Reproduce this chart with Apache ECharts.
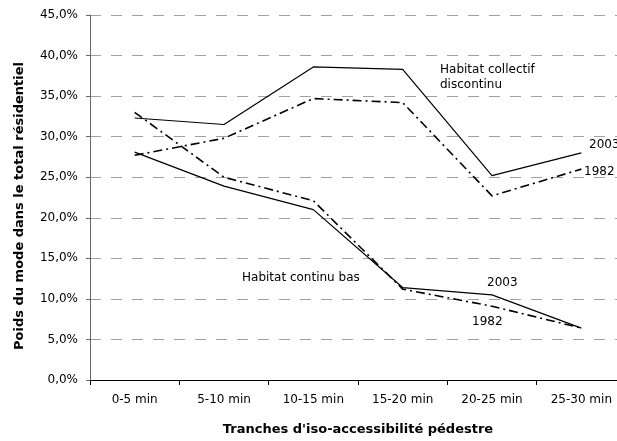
<!DOCTYPE html>
<html><head><meta charset="utf-8">
<script src="https://cdn.jsdelivr.net/npm/echarts@6/dist/echarts.min.js"></script>
<style>html,body{margin:0;padding:0;background:#fff;overflow:hidden}#c{width:640px;height:441px}</style>
</head><body><div id="c"></div>
<script>
const categories = ['0-5 min','5-10 min','10-15 min','15-20 min','20-25 min','25-30 min'];
const collectif2003 = [32.3, 31.5, 38.6, 38.3, 25.2, 28.0];
const collectif1982 = [27.7, 29.8, 34.7, 34.2, 22.7, 26.0];
const continu2003 = [28.1, 23.9, 21.0, 11.4, 10.5, 6.4];
const continu1982 = [33.0, 25.0, 22.1, 11.2, 9.1, 6.4];
const yTicks = {min: 0, max: 45, interval: 5};

const font = '"DejaVu Sans", sans-serif';
const chart = echarts.init(document.getElementById('c'));
const solid = {color:'#000', width:1.2, type:'solid'};
const dashdot = {color:'#000', width:1.6, type:[9,4,2,4]};
function mk(name, data, ls){
  return {name, type:'line', data, symbol:'none', lineStyle:ls, animation:false, silent:true};
}
function txt(x, y, text, align){
  return {type:'text', x, y, silent:true,
    style:{text, font:'12px '+font, fill:'#000', align:align||'left', verticalAlign:'middle', lineHeight:15}};
}
chart.setOption({
  animation:false,
  grid:{left:90, top:15, width:536, height:367},
  xAxis:{type:'category', data:categories, boundaryGap:true,
    axisLine:{lineStyle:{color:'#000', width:1}},
    axisTick:{show:true, length:5, lineStyle:{color:'#000'}},
    axisLabel:{color:'#000', fontFamily:font, fontSize:12, margin:14},
    name:"Tranches d'iso-accessibilité pédestre", nameLocation:'middle', nameGap:43,
    nameTextStyle:{color:'#000', fontFamily:font, fontSize:13, fontWeight:'bold'}
  },
  yAxis:{type:'value', min:yTicks.min, max:yTicks.max, interval:yTicks.interval,
    axisLine:{show:true, lineStyle:{color:'#666', width:1}},
    axisTick:{show:true, length:4, lineStyle:{color:'#666'}},
    axisLabel:{color:'#000', fontFamily:font, fontSize:12, margin:12,
      formatter:v=>v.toFixed(1).replace('.',',')+'%'},
    splitLine:{show:true, lineStyle:{color:'#a0a0a0', type:[11,10], width:1}},
    name:'Poids du mode dans le total résidentiel', nameLocation:'middle', nameGap:64,
    nameTextStyle:{color:'#000', fontFamily:font, fontSize:13, fontWeight:'bold', padding:[0,17,0,0]}
  },
  series:[
    mk('Collectif 2003', collectif2003, solid),
    mk('Collectif 1982', collectif1982, dashdot),
    mk('Continu 2003', continu2003, solid),
    mk('Continu 1982', continu1982, dashdot)
  ],
  graphic:[
    txt(440, 70, 'Habitat collectif'),
    txt(440, 85, 'discontinu'),
    txt(589, 145, '2003'),
    txt(584, 172, '1982'),
    txt(242, 278, 'Habitat continu bas'),
    txt(487, 283, '2003'),
    txt(472, 322, '1982')
  ]
});
</script></body></html>
